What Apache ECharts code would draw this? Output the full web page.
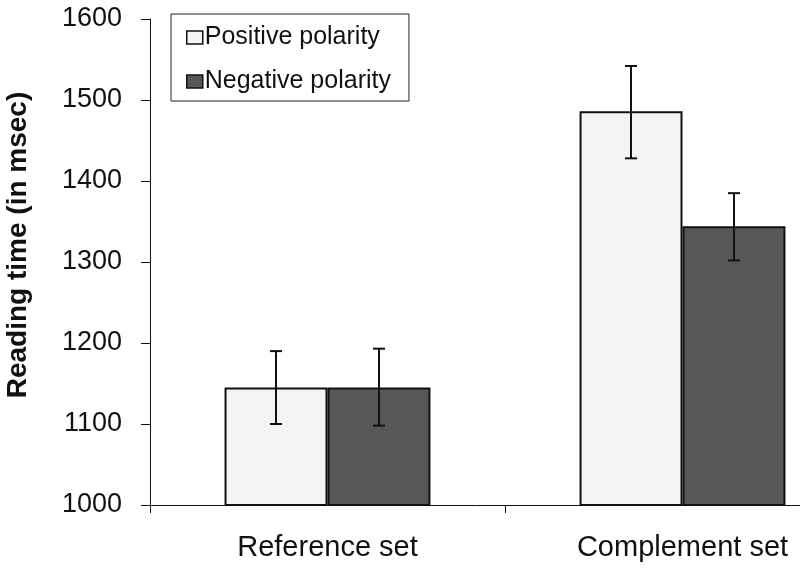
<!DOCTYPE html>
<html>
<head>
<meta charset="utf-8">
<script src="https://cdn.jsdelivr.net/npm/echarts@6/dist/echarts.min.js"></script>
<style>html,body{margin:0;padding:0;background:#fff}#c{width:800px;height:568px}</style>
</head>
<body>
<div id="c"></div>
<script>
const categories = ['Reference set', 'Complement set'];
const seriesNames = ['Positive polarity', 'Negative polarity'];
const positive = [1145, 1486];
const negative = [1145, 1344];
const positiveLow = [1100, 1428];
const positiveHigh = [1190, 1542];
const negativeLow = [1098, 1302];
const negativeHigh = [1193, 1385];
const yTicks = [1000, 1100, 1200, 1300, 1400, 1500, 1600];

const GAP = 0.42;
const FONT = '"Liberation Sans", Arial, sans-serif';

function errData(low, high) {
  return categories.map((c, i) => [i, low[i], high[i]]);
}
function makeErr(idx) {
  return function (params, api) {
    const i = api.value(0);
    const lo = api.coord([i, api.value(1)]);
    const hi = api.coord([i, api.value(2)]);
    const band = api.size([1, 0])[0];
    const w = band * (1 - GAP) / 2;
    const x = lo[0] + (idx === 0 ? -w / 2 : w / 2);
    const cap = 6;
    const st = { stroke: '#111', lineWidth: 2, fill: null };
    return {
      type: 'group',
      children: [
        { type: 'line', shape: { x1: x, y1: hi[1], x2: x, y2: lo[1] }, style: st },
        { type: 'line', shape: { x1: x - cap, y1: hi[1], x2: x + cap, y2: hi[1] }, style: st },
        { type: 'line', shape: { x1: x - cap, y1: lo[1], x2: x + cap, y2: lo[1] }, style: st }
      ]
    };
  };
}

const chart = echarts.init(document.getElementById('c'));
chart.setOption({
  animation: false,
  backgroundColor: '#fff',
  grid: { left: 150, top: 19, width: 710, bottom: 63, containLabel: false, outerBoundsMode: 'none' },
  legend: {
    data: seriesNames,
    orient: 'vertical',
    left: 171, top: 14,
    padding: [11, 18, 7, 15],
    itemGap: 19,
    itemWidth: 16, itemHeight: 13,
    itemStyle: { borderColor: '#111', borderWidth: 1.5 },
    borderColor: '#222', borderWidth: 1,
    textStyle: { fontFamily: FONT, fontSize: 25, color: '#111', padding: [0, 0, 0, -3] },
    icon: 'rect'
  },
  xAxis: {
    type: 'category',
    data: categories,
    axisLine: { lineStyle: { color: '#111', width: 1 } },
    axisTick: { show: true, length: 8, lineStyle: { color: '#111' } },
    axisLabel: { fontFamily: FONT, fontSize: 29, color: '#111', margin: 28 }
  },
  yAxis: {
    type: 'value',
    min: 1000, max: 1600, interval: 100,
    splitLine: { show: false },
    axisLine: { show: true, lineStyle: { color: '#111', width: 1 } },
    axisTick: { show: true, length: 9, lineStyle: { color: '#111' } },
    axisLabel: {
      fontFamily: FONT, fontSize: 27, color: '#111', margin: 28,
      formatter: v => yTicks.includes(v) ? String(v) : ''
    },
    name: 'Reading time (in msec)',
    nameLocation: 'middle',
    nameRotate: 90,
    nameGap: 118,
    nameTextStyle: { fontFamily: FONT, fontSize: 28, fontWeight: 'bold', color: '#111', padding: [0, 0, 0, 34] }
  },
  series: [
    {
      name: seriesNames[0], type: 'bar', data: positive,
      barGap: '0%', barCategoryGap: (GAP * 100) + '%',
      itemStyle: { color: '#f4f4f4', borderColor: '#111', borderWidth: 2 }
    },
    {
      name: seriesNames[1], type: 'bar', data: negative,
      barGap: '0%', barCategoryGap: (GAP * 100) + '%',
      itemStyle: { color: '#575757', borderColor: '#111', borderWidth: 2 }
    },
    {
      type: 'custom', renderItem: makeErr(0), data: errData(positiveLow, positiveHigh),
      encode: { x: 0, y: [1, 2] }, z: 5, silent: true
    },
    {
      type: 'custom', renderItem: makeErr(1), data: errData(negativeLow, negativeHigh),
      encode: { x: 0, y: [1, 2] }, z: 5, silent: true
    }
  ]
});
</script>
</body>
</html>
